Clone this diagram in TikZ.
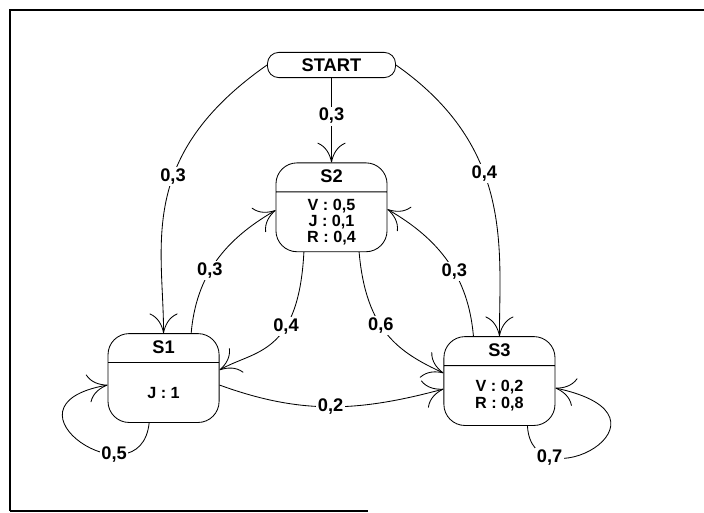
\documentclass[tikz,border=0pt]{standalone}
\usepackage{fontspec}
\setmainfont{Liberation Sans}
\usepackage{tikz}
\usetikzlibrary{shapes,arrows.meta,positioning}

\newcommand{\sthead}[1]{\rule[-6pt]{0pt}{20pt}\fontsize{13}{14}\selectfont\bfseries #1}
\newcommand{\stbody}[1]{\parbox[c][42pt][c]{79pt}{\centering\fontsize{11.5}{11.5}\selectfont\bfseries #1}}

\begin{document}
\begin{tikzpicture}[x=0.025cm, y=-0.025cm,
    state/.style={rectangle split, rectangle split parts=2, draw, line width=0.6pt, rounded corners=15pt, inner xsep=0pt, inner ysep=0pt},
    startbox/.style={draw, line width=0.6pt, rounded corners=8pt, minimum width=3.2cm, minimum height=0.63cm, inner sep=0pt, font=\fontsize{13}{14}\selectfont\bfseries},
    lbl/.style={fill=white, inner sep=1.2pt, font=\fontsize{13}{14}\selectfont\bfseries},
    arrow/.style={-{Computer Modern Rightarrow[length=14pt,width=20pt]}, line width=0.6pt},
    frame/.style={line width=1.2pt}]

    \useasboundingbox (0,0) rectangle (704,513);
    \draw[frame] (10,511) -- (10,10) -- (704,10);
    \draw[frame] (10,511) -- (368,511);

    \node[startbox] (start) at (331.5,65) {START};
    \node[state, below=2.11cm of start] (S2) {\sthead{S2}\nodepart{two}\stbody{V : 0,5\\J : 0,1\\R : 0,4}};
    \node[state, below left=2.025cm and 1.4cm of S2] (S1) {\sthead{S1}\nodepart{two}\stbody{J : 1}};
    \node[state, below right=2.1cm and 1.4cm of S2] (S3) {\sthead{S3}\nodepart{two}\stbody{V : 0,2\\R : 0,8}};

    \draw[arrow] (start.south) -- node[lbl, pos=0.45] {0,3} (S2.north);
    \draw[arrow] (start.west) to[out=215, in=90, out distance=4cm, in distance=2.2cm] node[lbl, pos=0.41] {0,3} (S1.north);
    \draw[arrow] (start.east) to[out=-35, in=90, out distance=3.6cm, in distance=2.2cm] node[lbl, pos=0.41] {0,4} (S3.north);
    \draw[arrow] ([xshift=0.69cm]S1.north) to[out=85, in=210] node[lbl, pos=0.42] {0,3} ([yshift=-0.075cm]S2.west);
    \draw[arrow] ([xshift=-0.69cm]S2.south) to[out=-93, in=30, out distance=2.6cm, in distance=1cm] node[lbl, pos=0.35] {0,4} ([yshift=0.2cm]S1.east);
    \draw[arrow] ([xshift=0.69cm]S2.south) to[out=-85, in=155, out distance=2cm, in distance=1.2cm] node[lbl, pos=0.42] {0,6} ([yshift=0.2cm]S3.west);
    \draw[arrow] ([xshift=-0.65cm]S3.north) to[out=95, in=-30] node[lbl, pos=0.42] {0,3} ([yshift=-0.05cm]S2.east);
    \draw[arrow] ([yshift=-0.175cm]S1.east) to[out=-20, in=195] node[lbl] {0,2} ([yshift=-0.2cm]S3.west);
    \draw[arrow] ([xshift=-0.36cm]S1.south) to[out=-96, in=190, out distance=2.05cm, in distance=3cm] node[lbl, pos=0.3] {0,5} ([yshift=-0.175cm]S1.west);
    \draw[arrow] ([xshift=0.7cm]S3.south) to[out=-87, in=-12, out distance=2cm, in distance=3.5cm] node[lbl, pos=0.23] {0,7} ([yshift=-0.175cm]S3.east);
\end{tikzpicture}
\end{document}
